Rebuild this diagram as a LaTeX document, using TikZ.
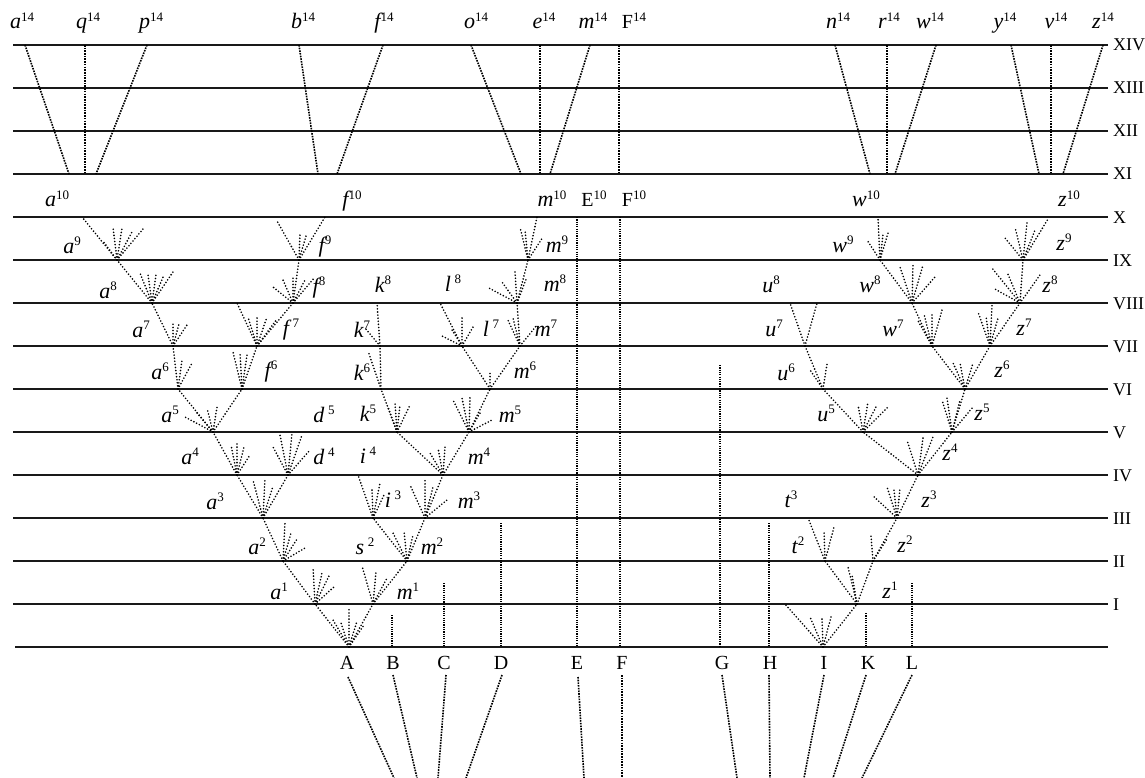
\documentclass[tikz,border=0pt]{standalone}
\usepackage{fontspec}
\setmainfont{Liberation Serif}
\newcommand\lbl[2]{#1\raisebox{0.33em}{\fontsize{13}{13}\selectfont\upshape #2}}
\newcommand\lblr[2]{#1\raisebox{0.36em}{\fontsize{13}{13}\selectfont\upshape #2}}
\newcommand\fan[2]{\foreach \dx/\dy in {#2}{\draw[ray] (#1) -- ++(\dx,\dy);}}
\begin{document}
\begin{tikzpicture}[x=1pt,y=-1pt,
  levelline/.style={line width=1.8pt, draw=black!90},
  ray/.style={line width=1.8pt, line cap=round, dash pattern=on 0pt off 3.1pt},
  vline/.style={line width=1.5pt, dash pattern=on 1.2pt off 1.1pt},
  uline/.style={line width=1.6pt, dash pattern=on 1.6pt off 1.1pt},
  it/.style={font=\fontsize{22}{22}\selectfont\itshape, anchor=base, inner sep=0pt},
  rm/.style={font=\fontsize{20}{20}\selectfont, anchor=base, inner sep=0pt},
  roman/.style={font=\fontsize{18}{18}\selectfont, anchor=base west, inner sep=0pt}]
\useasboundingbox[fill=white] (0,0) rectangle (1145,778);

% level lines
\coordinate (L0) at (15,647); \coordinate (R0) at (1108,647);
\draw[levelline] (L0) -- (R0);
\foreach \k/\r in {1/I,2/II,3/III,4/IV,5/V,6/VI,7/VII,8/VIII,9/IX,10/X,11/XI,12/XII,13/XIII,14/XIV}{
  \coordinate (L\k) at (13,647-43*\k);
  \coordinate (R\k) at (1108,647-43*\k);
  \draw[levelline] (L\k) -- (R\k);
  \node[roman] (rn\k) at (1113,653-43*\k) {\r};
}

% ---------- left tree (A) ----------
\coordinate (A0) at (349,647);
\coordinate (a1) at (315,604);
\coordinate (m1) at (373,604);
\coordinate (a2) at (283,561);
\coordinate (m2) at (407,561);
\coordinate (a3) at (263,518);
\coordinate (i3) at (373,518);
\coordinate (m3) at (425,518);
\coordinate (a4) at (237,475);
\coordinate (d4) at (288,475);
\coordinate (i4t) at (358,475);
\coordinate (m4) at (443,475);
\coordinate (a5) at (213,432);
\coordinate (k5) at (397,432);
\coordinate (m5) at (469,432);
\coordinate (a6) at (178,389);
\coordinate (f6) at (242,389);
\coordinate (k6) at (381,389);
\coordinate (m6) at (490,389);
\coordinate (a7) at (173,346);
\coordinate (f7) at (257,346);
\coordinate (k7) at (380,346);
\coordinate (l7) at (462,346);
\coordinate (m7) at (520,346);
\coordinate (a8) at (152,303);
\coordinate (f7t) at (237,303);
\coordinate (f8) at (293,303);
\coordinate (k8t) at (377,303);
\coordinate (l8t) at (440,303);
\coordinate (m8) at (517,303);
\coordinate (a9) at (117,260);
\coordinate (f9) at (299,260);
\coordinate (m9) at (528,260);
\coordinate (a10t) at (82,217);
\coordinate (f9t) at (277,221);
\coordinate (f10t) at (325,217);
\coordinate (m10t) at (537,217);

\foreach \p/\q in {A0/a1,A0/m1,a1/a2,a2/a3,a3/a4,a3/d4,a4/a5,a5/a6,a5/f6,a6/a7,a7/a8,a8/a9,a9/a10t,
  f6/f7,f7/f7t,f7/f8,f8/f9,f9/f9t,f9/f10t,m1/m2,m2/i3,m2/m3,i3/i4t,m3/m4,m4/k5,m4/m5,k5/k6,k6/k7,k7/k8t,
  m5/m6,m6/l7,m6/m7,l7/l8t,m7/m8,m8/m9,m9/m10t}{\draw[ray] (\p) -- (\q);}

\fan{A0}{-16/-27,-8/-24,0/-40,8/-26,15/-22}
\fan{a1}{-2/-37,7/-31,14/-28,20/-18}
\fan{a2}{2/-38,8/-28,14/-22,22/-13}
\fan{a3}{-10/-38,2/-40,10/-32}
\fan{a4}{-6/-30,0/-32,7/-28,13/-20}
\fan{d4}{-15/-28,-8/-40,4/-42,14/-40,22/-25}
\fan{a5}{-28/-15,-16/-19,-6/-24,4/-25}
\fan{a6}{4/-29,14/-26}
\fan{f6}{-9/-37,-2/-36,5/-34}
\fan{a7}{0/-24,6/-22,14/-21}
\fan{f7}{-9/-29,0/-29,10/-29,20/-27}
\fan{a8}{-12/-30,-4/-28,4/-28,12/-28,21/-31}
\fan{f8}{-20/-16,-10/-23,0/-26,12/-23,22/-26}
\fan{a9}{-14/-19,-4/-33,5/-32,15/-28,26/-31}
\fan{f9}{1/-27,7/-24}
\fan{m1}{-11/-38,3/-32,14/-26}
\fan{m2}{-14/-28,-3/-30,6/-26}
\fan{i3}{-1/-28,7/-35,12/-25}
\fan{m3}{-15/-33,0/-38,8/-31,22/-18}
\fan{m4}{-13/-22,-5/-27,2/-28}
\fan{k5}{-9/-25,-2/-29,3/-27,13/-27}
\fan{m5}{-16/-32,-7/-34,1/-35,11/-19,23/-12}
\fan{k6}{-13/-38}
\fan{k7}{-15/-18}
\fan{m6}{0/-17}
\fan{l7}{-22/-11,-10/-16,0/-28,11/-19}
\fan{m7}{-13/-28,-7/-28,17/-21}
\fan{m8}{-30/-16,-15/-21,-2/-31,10/-26}
\fan{m9}{-8/-33,-3/-30,15/-23}

% ---------- right tree (I) ----------
\coordinate (I0) at (823,647);
\coordinate (It) at (785,604);
\coordinate (z1) at (857,604);
\coordinate (t2) at (825,561);
\coordinate (z2) at (873,561);
\coordinate (t3t) at (808,518);
\coordinate (z3) at (897,518);
\coordinate (z4) at (918,475);
\coordinate (u5) at (863,432);
\coordinate (z5) at (952,432);
\coordinate (u6) at (823,389);
\coordinate (z6) at (965,389);
\coordinate (u7) at (805,346);
\coordinate (w7) at (932,346);
\coordinate (z7) at (990,346);
\coordinate (u8l) at (790,303);
\coordinate (u8r) at (817,303);
\coordinate (w8) at (912,303);
\coordinate (z7t) at (992,305);
\coordinate (z8) at (1020,303);
\coordinate (w9) at (880,260);
\coordinate (z9) at (1023,260);
\coordinate (w10t) at (878,217);
\coordinate (z10t) at (1048,219);

\foreach \p/\q in {I0/It,I0/z1,z1/t2,z1/z2,t2/t3t,z2/z3,z3/z4,z4/u5,z4/z5,u5/u6,u6/u7,u7/u8l,u7/u8r,
  z5/z6,z6/w7,z6/z7,w7/w8,w8/w9,w9/w10t,z7/z7t,z7/z8,z8/z9,z9/z10t}{\draw[ray] (\p) -- (\q);}

\fan{I0}{-13/-30,-1/-28,8/-30}
\fan{z1}{-9/-37,-5/-29}
\fan{t2}{-1/-30,9/-34}
\fan{z2}{-2/-25,14/-22}
\fan{z3}{-25/-23,-10/-31,-3/-28,3/-30}
\fan{z4}{-11/-35,5/-37,15/-38}
\fan{u5}{-5/-27,5/-30,14/-27,25/-25}
\fan{z5}{-10/-32,-5/-34,8/-32,21/-25}
\fan{u6}{-13/-19,4/-25}
\fan{z6}{-12/-26,-5/-26,8/-26}
\fan{w7}{-15/-27,-8/-32,0/-33,10/-36}
\fan{z7}{-12/-34,-4/-30,8/-28}
\fan{w8}{-12/-36,1/-38,11/-38,23/-26}
\fan{z8}{-28/-35,-27/-15,-13/-31,20/-28}
\fan{w9}{-13/-20,3/-25,8/-27}
\fan{z9}{-18/-22,-8/-33,4/-37,12/-30}

% ---------- unchanged species lines ----------
\foreach \n/\x/\t in {B/392/615,C/444/583,D/501/523,E/577/217,F/620/217,G/720/365,H/769/523,K/866/613,L/912/583}{
  \coordinate (\n top) at (\x,\t);
  \coordinate (\n bot) at (\x,647);
  \draw[vline] (\n top) -- (\n bot);
}

% ---------- upper section (XI - XIV) ----------
\foreach \n/\xa/\xb in {a/25/69,q/85/85,p/147/96,b/299/318,f/383/337,o/471/521,e/540/540,m/590/550,F/619/619,
  n/835/870,r/887/887,w/936/895,y/1011/1039,v/1051/1051,z/1103/1063}{
  \coordinate (\n U) at (\xa,45);
  \coordinate (\n D) at (\xb,174);
  \draw[uline] (\n U) -- (\n D);
}

% ---------- lines below the letters ----------
\foreach \n/\xa/\ya/\xb in {A/348/677/394,B/393/675/417,C/446/675/438,D/502/675/466,E/578/677/584,F/622/675/622,
  G/722/675/737,H/769/675/770,I/824/675/804,K/866/675/833,L/912/675/862}{
  \coordinate (\n s) at (\xa,\ya);
  \coordinate (\n e) at (\xb,778);
  \draw[uline] (\n s) -- (\n e);
}

% ---------- bottom letters ----------
\foreach \n/\x in {A/347,B/393,C/444,D/501,E/577,F/622,G/722,H/770,I/824,K/868,L/912}{
  \node[rm] (sp\n) at (\x,669) {\n};
}

% ---------- labels level 14 ----------
\node[it] (la14) at (22,29) {\lbl{a}{14}};
\node[it] (lq14) at (88,29) {\lbl{q}{14}};
\node[it] (lp14) at (151,29) {\lbl{p}{14}};
\node[it] (lb14) at (303,29) {\lbl{b}{14}};
\node[it] (lf14) at (384,29) {\lbl{f}{14}};
\node[it] (lo14) at (476,29) {\lbl{o}{14}};
\node[it] (le14) at (544,29) {\lbl{e}{14}};
\node[it] (lm14) at (593,29) {\lbl{m}{14}};
\node[rm] (lF14) at (634,29) {\lblr{F}{14}};
\node[it] (ln14) at (838,29) {\lbl{n}{14}};
\node[it] (lr14) at (889,29) {\lbl{r}{14}};
\node[it] (lw14) at (930,29) {\lbl{w}{14}};
\node[it] (ly14) at (1005,29) {\lbl{y}{14}};
\node[it] (lv14) at (1056,29) {\lbl{v}{14}};
\node[it] (lz14) at (1103,29) {\lbl{z}{14}};

% ---------- labels level 10 ----------
\node[it] (la10) at (57,207) {\lbl{a}{10}};
\node[it] (lf10) at (352,207) {\lbl{f}{10}};
\node[it] (lm10) at (552,207) {\lbl{m}{10}};
\node[rm] (lE10) at (594,207) {\lblr{E}{10}};
\node[rm] (lF10) at (634,207) {\lblr{F}{10}};
\node[it] (lw10) at (866,207) {\lbl{w}{10}};
\node[it] (lz10) at (1069,207) {\lbl{z}{10}};

% ---------- other labels ----------
\node[it] (la9) at (72,253) {\lbl{a}{9}};
\node[it] (lf9) at (325,252) {\lbl{f}{9}};
\node[it] (lm9) at (557,252) {\lbl{m}{9}};
\node[it] (lw9) at (843,252) {\lbl{w}{9}};
\node[it] (lz9) at (1064,250) {\lbl{z}{9}};

\node[it] (la8) at (108,298) {\lbl{a}{8}};
\node[it] (lf8) at (319,293) {\lbl{f}{8}};
\node[it] (lk8) at (383,292) {\lbl{k}{8}};
\node[it] (ll8) at (453,291) {\lbl{l\,}{8}};
\node[it] (lm8) at (555,291) {\lbl{m}{8}};
\node[it] (lu8) at (771,292) {\lbl{u}{8}};
\node[it] (lw8) at (870,292) {\lbl{w}{8}};
\node[it] (lz8) at (1050,292) {\lbl{z}{8}};

\node[it] (la7) at (141,337) {\lbl{a}{7}};
\node[it] (lf7) at (291,335) {\lbl{f\,}{7}};
\node[it] (lk7) at (362,337) {\lbl{k}{7}};
\node[it] (ll7) at (491,336) {\lbl{l\,}{7}};
\node[it] (lm7) at (546,336) {\lbl{m}{7}};
\node[it] (lu7) at (774,336) {\lbl{u}{7}};
\node[it] (lw7) at (893,336) {\lbl{w}{7}};
\node[it] (lz7) at (1024,335) {\lbl{z}{7}};

\node[it] (la6) at (160,379) {\lbl{a}{6}};
\node[it] (lf6) at (271,377) {\lbl{f}{6}};
\node[it] (lk6) at (362,380) {\lbl{k}{6}};
\node[it] (lm6) at (525,378) {\lbl{m}{6}};
\node[it] (lu6) at (786,380) {\lbl{u}{6}};
\node[it] (lz6) at (1002,377) {\lbl{z}{6}};

\node[it] (la5) at (170,422) {\lbl{a}{5}};
\node[it] (ld5) at (324,422) {\lbl{d\,}{5}};
\node[it] (lk5) at (368,421) {\lbl{k}{5}};
\node[it] (lm5) at (510,422) {\lbl{m}{5}};
\node[it] (lu5) at (826,421) {\lbl{u}{5}};
\node[it] (lz5) at (982,420) {\lbl{z}{5}};

\node[it] (la4) at (190,464) {\lbl{a}{4}};
\node[it] (ld4) at (324,464) {\lbl{d\,}{4}};
\node[it] (li4) at (368,463) {\lbl{i\,}{4}};
\node[it] (lm4) at (479,464) {\lbl{m}{4}};
\node[it] (lz4) at (950,460) {\lbl{z}{4}};

\node[it] (la3) at (215,509) {\lbl{a}{3}};
\node[it] (li3) at (393,507) {\lbl{i\,}{3}};
\node[it] (lm3) at (469,508) {\lbl{m}{3}};
\node[it] (lt3) at (791,507) {\lbl{t}{3}};
\node[it] (lz3) at (929,507) {\lbl{z}{3}};

\node[it] (la2) at (257,554) {\lbl{a}{2}};
\node[it] (ls2) at (365,554) {\lbl{s\,}{2}};
\node[it] (lm2) at (432,554) {\lbl{m}{2}};
\node[it] (lt2) at (798,553) {\lbl{t}{2}};
\node[it] (lz2) at (905,552) {\lbl{z}{2}};

\node[it] (la1) at (279,599) {\lbl{a}{1}};
\node[it] (lm1) at (408,599) {\lbl{m}{1}};
\node[it] (lz1) at (890,598) {\lbl{z}{1}};
\end{tikzpicture}
\end{document}
